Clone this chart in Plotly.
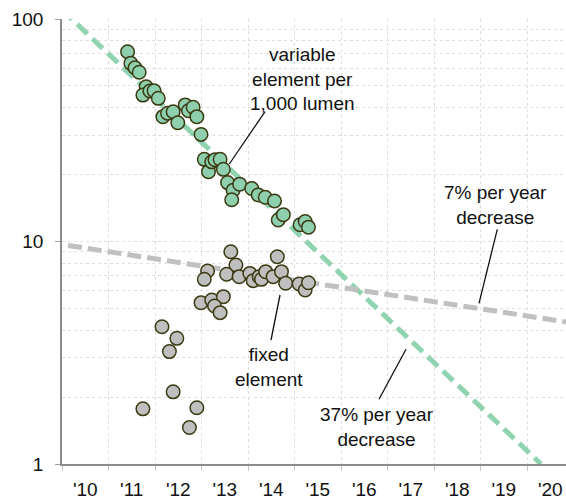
import plotly.graph_objects as go

# ---- data ----
variable_years = [2011.41, 2011.48, 2011.57, 2011.66, 2011.81, 2011.74, 2011.89, 2011.98, 2012.07,
                  2012.17, 2012.27, 2012.39, 2012.49, 2012.65, 2012.72, 2012.82, 2012.90, 2012.99,
                  2013.06, 2013.15, 2013.22, 2013.29, 2013.40, 2013.47, 2013.56, 2013.68, 2013.65,
                  2013.82, 2014.08, 2014.22, 2014.37, 2014.57, 2014.65, 2014.76, 2015.12, 2015.23,
                  2015.30]
variable_values = [71.3, 63.2, 60.4, 57.6, 49.6, 45.5, 47.5, 47.6, 44.0,
                   36.4, 37.7, 38.3, 34.2, 41.1, 38.7, 40.1, 36.4, 30.3,
                   23.4, 20.6, 22.8, 23.3, 23.4, 21.1, 18.4, 17.0, 15.4,
                   18.1, 17.3, 16.2, 15.8, 15.2, 12.5, 13.2, 11.9, 12.3,
                   11.6]

fixed_years = [2013.63, 2013.74, 2013.54, 2013.81, 2013.13, 2013.06, 2014.04, 2014.11, 2014.24,
               2014.29, 2014.38, 2014.54, 2014.63, 2014.72, 2014.81, 2015.10, 2015.23, 2015.30,
               2012.99, 2013.22, 2013.47, 2013.28, 2013.40, 2012.15, 2012.47, 2012.31, 2012.39,
               2011.74, 2012.90, 2012.74]
fixed_values = [9.0, 7.84, 7.12, 6.95, 7.37, 6.76, 7.19, 6.67, 6.95,
                6.76, 7.32, 6.95, 8.54, 7.32, 6.49, 6.44, 6.05, 6.53,
                5.31, 5.46, 5.65, 5.13, 4.79, 4.14, 3.67, 3.20, 2.11,
                1.77, 1.79, 1.46]

trend37_years = [2010.0, 2020.30]
trend37_values = [110.0, 1.0]
trend7_years = [2010.13, 2020.84]
trend7_values = [9.6, 4.35]

tick_years = list(range(2010, 2021))
tick_labels = ["'%02d" % (y % 100) for y in tick_years]

# ---- styling ----
GREEN_LINE = "#8fd3b1"
GREEN_FILL = "#8ecfad"
GRAY_LINE = "#c0c0c0"
GRAY_FILL = "#c0bfc0"
EDGE = "#3b3a12"
GRID = "#dedede"
FONT = "Liberation Sans, Arial, sans-serif"

W, H = 566, 500
L, R, T, B = 62, 0, 19, 36
PW, PH = W - L - R, H - T - B

fig = go.Figure()
fig.add_trace(go.Scatter(x=trend37_years, y=trend37_values, mode="lines",
                         line=dict(color=GREEN_LINE, width=5, dash="14px,7px"),
                         hoverinfo="skip", showlegend=False))
fig.add_trace(go.Scatter(x=trend7_years, y=trend7_values, mode="lines",
                         line=dict(color=GRAY_LINE, width=5, dash="14px,6px"),
                         hoverinfo="skip", showlegend=False))
fig.add_trace(go.Scatter(x=variable_years, y=variable_values, mode="markers",
                         marker=dict(size=13.5, color=GREEN_FILL, line=dict(color=EDGE, width=1.5)),
                         showlegend=False))
fig.add_trace(go.Scatter(x=fixed_years, y=fixed_values, mode="markers",
                         marker=dict(size=13.5, color=GRAY_FILL, line=dict(color=EDGE, width=1.5)),
                         showlegend=False))


def px(xp):
    return (xp - L) / PW


def py(yp):
    return (T + PH - yp) / PH


texts = [
    ("variable<br>element per<br>1,000 lumen", 302, 79),
    ("fixed<br>element", 269, 366.5),
    ("37% per year<br>decrease", 376.5, 426.5),
    ("7% per year<br>decrease", 495.5, 205),
]
for txt, xp, yp in texts:
    fig.add_annotation(text=txt, xref="paper", yref="paper", x=px(xp), y=py(yp),
                       xanchor="center", yanchor="middle", showarrow=False,
                       font=dict(family=FONT, size=19, color="#111111"), align="center")

leaders = [
    (265, 111.7, 229.3, 164),
    (280, 295, 271, 340),
    (406, 349.3, 379, 399.3),
    (497.3, 229.3, 479, 303.3),
]
for x0, y0, x1, y1 in leaders:
    fig.add_shape(type="line", xref="paper", yref="paper",
                  x0=px(x0), y0=py(y0), x1=px(x1), y1=py(y1),
                  line=dict(color="#111111", width=1.3))

fig.update_layout(
    width=W, height=H,
    margin=dict(l=L, r=R, t=T, b=B),
    paper_bgcolor="white", plot_bgcolor="white",
    font=dict(family=FONT, size=19, color="#111111"),
    showlegend=False,
    xaxis=dict(
        range=[2010, 2010 + PW / 46.5],
        tickvals=[y + 0.5 for y in tick_years], ticktext=tick_labels,
        ticks="", showgrid=False, zeroline=False,
        showline=True, linecolor="#8c8c8c", linewidth=1.5,
        tickfont=dict(family=FONT, size=19, color="#111111"),
        ticklabelstandoff=7,
        minor=dict(tickvals=tick_years, ticks="outside", ticklen=5, tickcolor="#c8c8c8",
                   showgrid=True, gridcolor=GRID, griddash="dot", gridwidth=1),
    ),
    yaxis=dict(
        type="log", range=[0, 2],
        tickvals=[1, 10, 100], ticktext=["1", "10", "100"],
        ticks="outside", ticklen=5, tickcolor="#a0a0a0",
        showgrid=True, gridcolor=GRID, griddash="dot",
        zeroline=False, showline=True, linecolor="#8c8c8c", linewidth=1.5,
        tickfont=dict(family=FONT, size=19, color="#111111"),
        ticklabelstandoff=8,
        minor=dict(tickvals=[2, 3, 4, 5, 6, 7, 8, 9, 20, 30, 40, 50, 60, 70, 80, 90],
                   ticks="", showgrid=True, gridcolor=GRID, griddash="dot", gridwidth=1),
    ),
)

fig.write_html("out.html", config={"displayModeBar": False},
               post_script="document.body.style.margin='0';")
